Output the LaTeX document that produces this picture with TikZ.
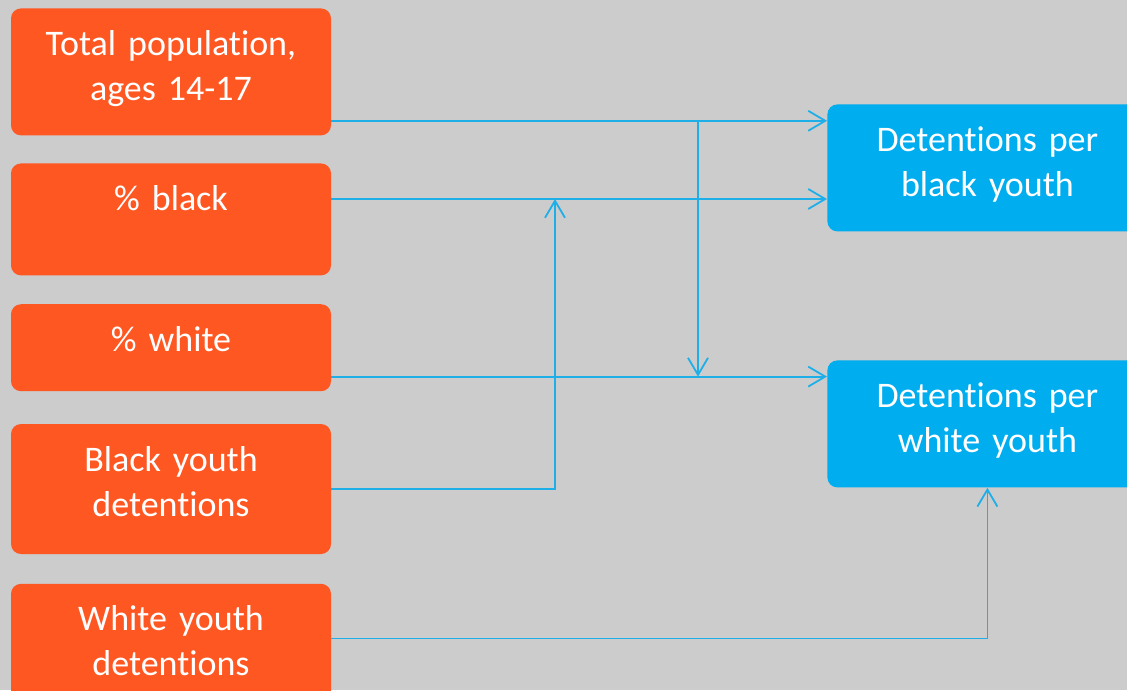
\documentclass[tikz,border=0pt]{standalone}
\usepackage{fontspec}
\setmainfont{Carlito}[Ligatures=NoCommon, WordSpace=0.85]
\usetikzlibrary{arrows.meta,positioning}
\definecolor{srcorange}{HTML}{FF5722}
\definecolor{tgtblue}{HTML}{00ADEF}
\definecolor{linkblue}{HTML}{1FAFE8}
\definecolor{canvas}{HTML}{CCCCCC}

\begin{document}
\begin{tikzpicture}[
  x=0.5pt, y=-0.5pt,
  node distance=13.6pt,
  every node/.style={font=\fontsize{18}{22.5}\selectfont, text=white},
  srcbox/.style={fill=srcorange, rounded corners=5pt, minimum width=160pt, text width=148pt,
    align=center, inner ysep=0pt, text height=23.5pt, text depth=#1},
  tgtbox/.style={fill=tgtblue, rounded corners=5pt, minimum width=160pt, text width=148pt,
    align=center, inner ysep=0pt, text height=23.5pt, text depth=40pt, anchor=north west},
  arrow/.style={-{Straight Barb[length=8.5pt, width=10pt]}, linkblue, line width=0.9pt},
]
  % Background
  \fill[canvas] (0,0) rectangle (1127,690);
  \useasboundingbox (0,0) rectangle (1127,690);

  % Inputs
  \node[srcbox=40pt, anchor=north] (pop) at (171,8) {Total population,\\ages 14-17};
  \node[srcbox=32.5pt, below=of pop] (pblack) {\% black};
  \node[srcbox=20pt, below=14pt of pblack] (pwhite) {\% white};
  \node[srcbox=41.5pt, below=16pt of pwhite] (bdet) {Black youth\\detentions};
  \node[srcbox=41.5pt, below=14.5pt of bdet] (wdet) {White youth\\detentions};

  % Outputs
  \node[tgtbox] (perblack) at (827,104) {Detentions per\\black youth};
  \node[tgtbox] (perwhite) at (827,360) {Detentions per\\white youth};

  % Exit points and junctions
  \coordinate (popout) at ([yshift=7.5pt]pop.south east);
  \coordinate (blackout) at ([yshift=-18pt]pblack.north east);
  \coordinate (whiteout) at ([yshift=7.5pt]pwhite.south east);
  \coordinate (wdetout) at ([yshift=-27.5pt]wdet.north east);
  \coordinate (split) at (698,0);
  \coordinate (merge) at (555,0);

  % Arrows
  \draw[arrow] (popout) -- (popout -| perblack.west);
  \draw[arrow] (blackout) -- (blackout -| perblack.west);
  \draw[arrow] (whiteout) -- (whiteout -| perwhite.west);
  \draw[arrow] (split |- popout) -- (split |- whiteout);
  \draw[arrow] (bdet.east) -| (merge |- blackout);
  \draw[arrow] (wdetout) -| (perwhite.south);

\end{tikzpicture}
\end{document}
